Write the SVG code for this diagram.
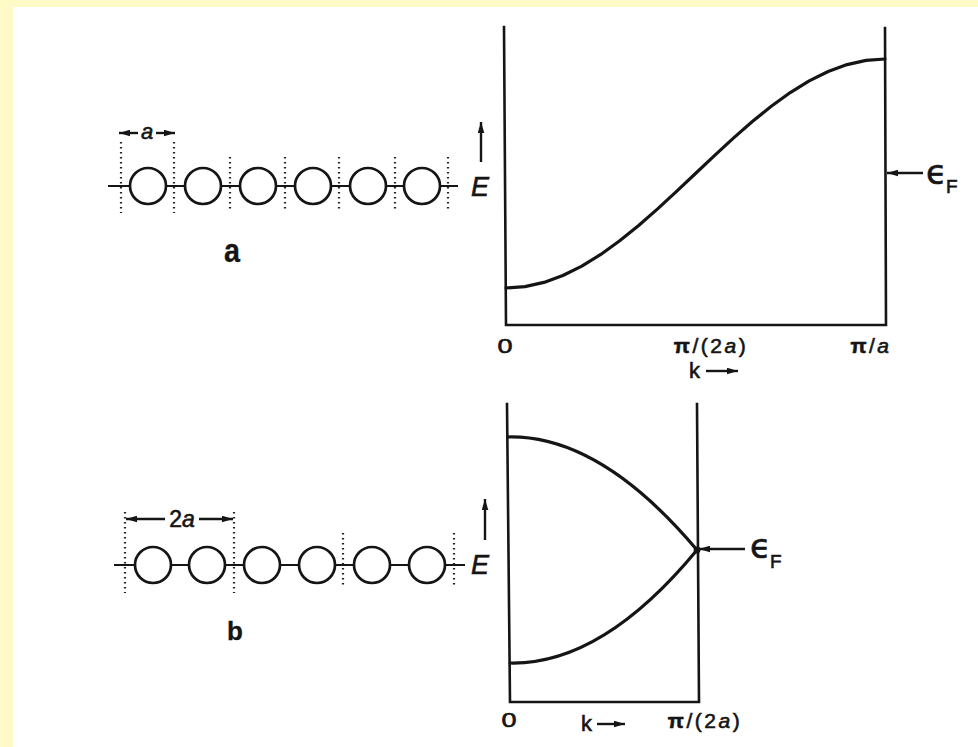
<svg xmlns="http://www.w3.org/2000/svg" width="978" height="747" viewBox="0 0 978 747">
<style>
.ax{stroke:#151515;stroke-width:2.6;fill:none;stroke-linecap:square}
.cv{stroke:#151515;stroke-width:3.2;fill:none;stroke-linecap:round;stroke-linejoin:round}
.atom{fill:#fff;stroke:#151515;stroke-width:2.7}
.bond{stroke:#151515;stroke-width:1.8}
.dot{stroke:#222;stroke-width:2.2;stroke-dasharray:1.6 3.4}
.arr{stroke:#151515;stroke-width:2.4;fill:none}
text{font-family:"Liberation Sans",Arial,sans-serif;fill:#151515;stroke:#151515;stroke-width:0.6}
.it{font-style:italic}
.bd{font-weight:bold;stroke-width:0.3}
.eps{font-family:"DejaVu Sans",sans-serif}
</style>
<defs>
<marker id="ah" viewBox="0 0 10 6" refX="10" refY="3" markerWidth="11" markerHeight="7" orient="auto" markerUnits="userSpaceOnUse"><path d="M0,0 L10,3 L0,6 z" fill="#151515"/></marker>
</defs>
<rect x="0" y="0" width="978" height="747" fill="#ffffff"/>
<rect x="0" y="0" width="978" height="7" fill="#fffac8"/>
<rect x="0" y="0" width="13" height="747" fill="#fffac8"/>

<g id="chain-a">
<line class="bond" x1="108" y1="186" x2="458" y2="186"/>
<line class="dot" x1="121" y1="142" x2="121" y2="213"/>
<line class="dot" x1="174" y1="142" x2="174" y2="213"/>
<line class="dot" x1="230" y1="157" x2="230" y2="210"/>
<line class="dot" x1="285" y1="157" x2="285" y2="210"/>
<line class="dot" x1="339" y1="157" x2="339" y2="210"/>
<line class="dot" x1="395" y1="157" x2="395" y2="210"/>
<line class="dot" x1="448" y1="157" x2="448" y2="210"/>
<circle class="atom" cx="148" cy="186" r="18"/>
<circle class="atom" cx="203" cy="186" r="18"/>
<circle class="atom" cx="258" cy="186" r="18"/>
<circle class="atom" cx="313" cy="186" r="18"/>
<circle class="atom" cx="368" cy="186" r="18"/>
<circle class="atom" cx="422" cy="186" r="18"/>
<text class="it" x="147" y="139" font-size="22" text-anchor="middle">a</text>
<text class="bd" x="232" y="262" font-size="34" textLength="16" lengthAdjust="spacingAndGlyphs" text-anchor="middle">a</text>
</g>

<g id="chain-b">
<line class="bond" x1="114" y1="565" x2="465" y2="565"/>
<line class="dot" x1="125" y1="512" x2="125" y2="593"/>
<line class="dot" x1="234" y1="512" x2="234" y2="593"/>
<line class="dot" x1="343" y1="533" x2="343" y2="588"/>
<line class="dot" x1="454" y1="533" x2="454" y2="588"/>
<circle class="atom" cx="153" cy="565" r="18"/>
<circle class="atom" cx="207" cy="565" r="18"/>
<circle class="atom" cx="262" cy="565" r="18"/>
<circle class="atom" cx="317" cy="565" r="18"/>
<circle class="atom" cx="372" cy="565" r="18"/>
<circle class="atom" cx="427" cy="565" r="18"/>
<text x="182" y="527" font-size="23" text-anchor="middle">2<tspan class="it">a</tspan></text>
<text class="bd" x="235" y="640" font-size="26" text-anchor="middle">b</text>
</g>

<g id="graph-a">
<path class="ax" d="M504,27 L506,325 L886,325 L885,28"/>
<path class="cv" d="M506,288 L524.95,286.59 L543.9,282.4 L562.85,275.52 L581.8,266.13 L600.75,254.46 L619.7,240.8 L638.65,225.48 L657.6,208.88 L676.55,191.41 L695.5,173.5 L714.45,155.59 L733.4,138.12 L752.35,121.52 L771.3,106.2 L790.25,92.54 L809.2,80.87 L828.15,71.48 L847.1,64.6 L866.05,60.41 L885,59"/>
<text class="it" x="471" y="196" font-size="27">E</text>
<text x="505" y="353" font-size="20" text-anchor="middle" textLength="15" lengthAdjust="spacingAndGlyphs">0</text>
<text x="711" y="353" font-size="21" text-anchor="middle" letter-spacing="2.5"><tspan font-weight="bold">π</tspan>/(2<tspan class="it">a</tspan>)</text>
<text x="871" y="353" font-size="21" text-anchor="middle" letter-spacing="2.5"><tspan font-weight="bold">π</tspan>/<tspan class="it">a</tspan></text>
<text x="689" y="378" font-size="22">k</text>
<text class="eps" x="926" y="184" font-size="34" stroke-width="0.8">ϵ</text>
<text x="946" y="193" font-size="19">F</text>
</g>

<g id="graph-b">
<path class="ax" d="M507,404 L510,702 L699,702 L697,404"/>
<path class="cv" d="M508,437 Q600,435 697,550"/>
<path class="cv" d="M510,663 Q602,665 697,550"/>
<circle cx="697" cy="550" r="3.4" fill="#151515"/>
<text class="it" x="471" y="574" font-size="27">E</text>
<text x="509" y="727" font-size="20" text-anchor="middle" textLength="15" lengthAdjust="spacingAndGlyphs">0</text>
<text x="705" y="728" font-size="21" text-anchor="middle" letter-spacing="2.5"><tspan font-weight="bold">π</tspan>/(2<tspan class="it">a</tspan>)</text>
<text x="581" y="731" font-size="22">k</text>
<text class="eps" x="750" y="558" font-size="34" stroke-width="0.8">ϵ</text>
<text x="770" y="568" font-size="19">F</text>
</g>

<g id="connectors">
<line class="arr" x1="138" y1="133" x2="119" y2="133" marker-end="url(#ah)"/>
<line class="arr" x1="156" y1="133" x2="175" y2="133" marker-end="url(#ah)"/>
<line class="arr" x1="165" y1="519" x2="126" y2="519" marker-end="url(#ah)"/>
<line class="arr" x1="199" y1="519" x2="233" y2="519" marker-end="url(#ah)"/>
<line class="arr" x1="481" y1="162" x2="481" y2="122" marker-end="url(#ah)"/>
<line class="arr" x1="485" y1="540" x2="485" y2="499" marker-end="url(#ah)"/>
<line class="arr" x1="923" y1="173" x2="887" y2="173" marker-end="url(#ah)"/>
<line class="arr" x1="745" y1="549" x2="699" y2="549" marker-end="url(#ah)"/>
<line class="arr" x1="706" y1="371" x2="738" y2="371" marker-end="url(#ah)"/>
<line class="arr" x1="597" y1="724" x2="625" y2="724" marker-end="url(#ah)"/>
</g>
</svg>
